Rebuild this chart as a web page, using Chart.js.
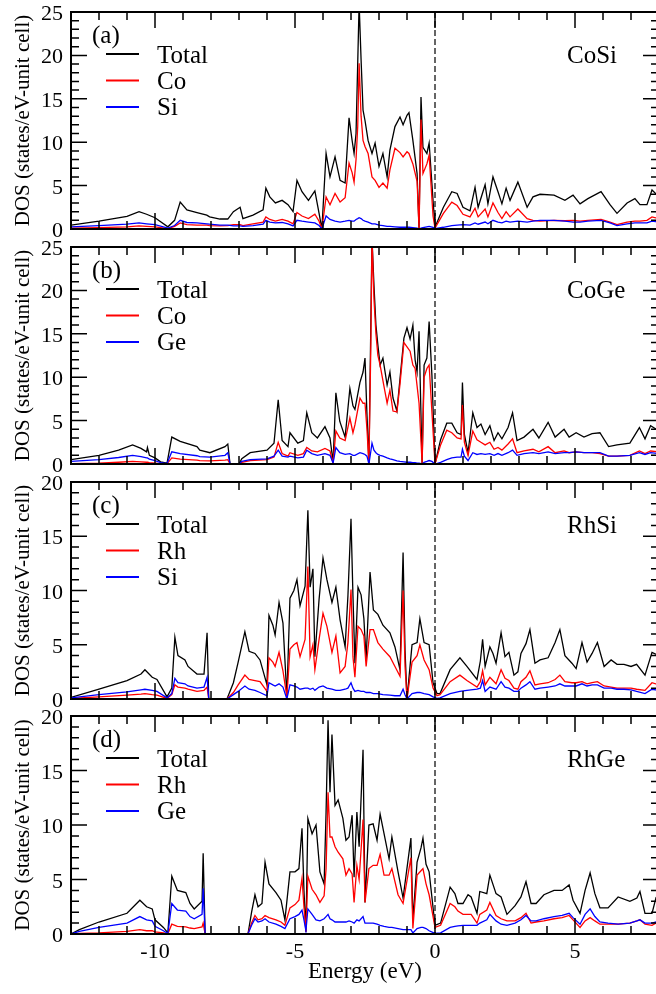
<!DOCTYPE html>
<html lang="en">
<head>
    <meta charset="UTF-8">
    <title>DOS of CoSi, CoGe, RhSi, RhGe</title>
    <script src="https://cdn.jsdelivr.net/npm/chart.js@4.4.0/dist/chart.umd.min.js"></script>
    <style>
        html, body { margin: 0; padding: 0; background: #fff; overflow: hidden; }
        #wrap { position: relative; width: 660px; height: 994px; }
        #wrap canvas { position: absolute; left: 0; top: 0; }
    </style>
</head>
<body>
    <div id="wrap">
        <canvas id="cosi" width="660" height="994"></canvas>
        <canvas id="coge" width="660" height="994"></canvas>
        <canvas id="rhsi" width="660" height="994"></canvas>
        <canvas id="rhge" width="660" height="994"></canvas>
    </div>

    <script>
        // (a) CoSi
        const cosiEnergy = [
            -13, -12, -11, -10.57, -10.3, -10, -9.54, -9.3, -9.1, -8.86,
            -8.5, -8.15, -8.05, -7.68, -7.4, -7.2, -6.96, -6.86, -6.5, -6.14,
            -6.04, -5.9, -5.7, -5.46, -5.25, -5.07, -4.93, -4.75, -4.52, -4.29,
            -4.14, -4.04, -3.89, -3.75, -3.57, -3.39, -3.21, -3.07, -2.96, -2.89,
            -2.82, -2.76, -2.71, -2.64, -2.57, -2.5, -2.39, -2.25, -2.14, -2,
            -1.86, -1.71, -1.61, -1.43, -1.25, -1.14, -1, -0.93, -0.79, -0.64,
            -0.57, -0.5, -0.43, -0.29, -0.21, -0.07, 0, 0.3, 0.6, 0.79,
            1, 1.25, 1.43, 1.54, 1.79, 1.89, 2.07, 2.25, 2.39, 2.54,
            2.68, 2.96, 3.29, 3.5, 3.75, 4.25, 4.64, 4.93, 5.18, 5.46,
            5.93, 6.25, 6.5, 6.86, 7.14, 7.32, 7.57, 7.75, 8
        ];
        const cosiTotal = [
            0.45, 0.9, 1.45, 2.0, 1.7, 1.3, 0.25, 1.0, 3.1, 2.2,
            1.9, 1.6, 1.4, 1.15, 1.15, 2.0, 2.5, 1.2, 1.6, 2.2,
            4.7, 3.7, 3.0, 3.3, 2.8, 2.0, 5.6, 4.3, 3.3, 4.4,
            1.8, 0, 8.7, 6.0, 8.3, 5.6, 5.3, 12.8, 10.2, 8.7,
            11.0, 19.1, 26, 19.5, 13.7, 12.5, 10.2, 8.7, 9.9, 7.2,
            8.7, 6.0, 9.1, 11.8, 12.9, 12.0, 13.1, 13.4, 10.2, 6.4,
            0, 15.2, 9.4, 8.7, 9.9, 3.3, 0.2, 2.5, 4.3, 4.1,
            2.5, 2.1, 4.8, 2.5, 5.1, 2.9, 6.0, 4.3, 2.9, 4.7,
            3.3, 5.4, 2.5, 3.7, 4.0, 3.9, 3.3, 3.9, 2.9, 3.5,
            4.3, 2.8, 1.8, 3.0, 3.5, 2.8, 2.8, 4.5, 3.7
        ];
        const cosiCo = [
            0.1, 0.15, 0.25, 0.35, 0.3, 0.25, 0.05, 0.3, 0.7, 0.5,
            0.45, 0.45, 0.4, 0.35, 0.4, 0.5, 0.5, 0.4, 0.6, 0.8,
            1.4, 1.1, 0.9, 1.1, 0.9, 0.6, 1.9, 1.5, 1.2, 1.7,
            0.9, 0, 3.7, 2.8, 4.1, 3.1, 3.6, 7.6, 6.5, 5.4,
            8.0, 11.8, 19.1, 13, 10.2, 9.5, 8.7, 6.0, 5.6, 4.8,
            5.3, 4.7, 6.8, 9.3, 8.8, 8.3, 8.9, 8.7, 7.5, 5.5,
            0, 12.6, 6.4, 7.5, 8.5, 1.5, 0.1, 1.8, 3.1, 2.7,
            1.7, 1.4, 2.4, 1.4, 2.3, 1.4, 3.0, 1.9, 1.2, 2.0,
            1.4, 2.3, 1.2, 1.0, 0.9, 1.0, 0.95, 1.0, 0.9, 1.0,
            1.1, 0.8, 0.5, 0.8, 0.9, 0.9, 1.0, 1.4, 1.2
        ];
        const cosiSi = [
            0.25, 0.4, 0.55, 0.7, 0.6, 0.5, 0.1, 0.4, 1.0, 0.75,
            0.7, 0.6, 0.55, 0.45, 0.45, 0.35, 0.35, 0.3, 0.4, 0.55,
            1.0, 0.8, 0.7, 0.75, 0.6, 0.35, 1.0, 0.9, 0.8, 0.7,
            0.4, 0, 1.5, 1.1, 0.9, 0.8, 0.9, 1.0, 0.9, 0.9,
            1.1, 1.2, 1.3, 1.2, 1.0, 0.9, 0.8, 0.6, 0.6, 0.45,
            0.4, 0.3, 0.3, 0.25, 0.2, 0.2, 0.2, 0.2, 0.15, 0.1,
            0, 0.1, 0.15, 0.25, 0.3, 0.2, 0.05, 0.2, 0.4, 0.45,
            0.5, 0.45, 0.7, 0.55, 0.8, 0.6, 1.0, 0.8, 0.7, 0.9,
            0.8, 0.9, 0.8, 0.9, 1.0, 1.0, 0.9, 0.8, 0.8, 0.9,
            1.0, 0.7, 0.4, 0.6, 0.7, 0.7, 0.7, 0.9, 0.8
        ];

        // (b) CoGe
        const cogeEnergy = [
            -13, -12, -11.3, -10.8, -10.5, -10.3, -10.27, -10.2, -10, -9.8,
            -9.57, -9.4, -9.1, -8.5, -8.4, -8.04, -7.5, -7.4, -7.32, -7,
            -6.9, -6.6, -6, -5.75, -5.6, -5.46, -5.25, -5.18, -4.9, -4.7,
            -4.58, -4.4, -4.2, -3.93, -3.75, -3.64, -3.54, -3.4, -3.21, -3.04,
            -2.93, -2.86, -2.68, -2.57, -2.5, -2.43, -2.36, -2.29, -2.25, -2.18,
            -2.11, -2.04, -1.96, -1.86, -1.71, -1.61, -1.5, -1.36, -1.25, -1.11,
            -1, -0.89, -0.79, -0.71, -0.64, -0.57, -0.46, -0.39, -0.29, -0.21,
            -0.11, 0, 0.2, 0.42, 0.6, 0.79, 0.93, 0.98, 1.05, 1.18,
            1.35, 1.5, 1.64, 1.79, 1.96, 2.11, 2.25, 2.39, 2.61, 2.77,
            2.93, 3.18, 3.5, 3.71, 4.04, 4.29, 4.61, 4.79, 5.04, 5.32,
            5.61, 5.89, 6.2, 6.5, 6.96, 7.3, 7.5, 7.7, 8
        ];
        const cogeTotal = [
            0.5, 1.0, 1.6, 2.2, 1.8, 1.4, 1.9, 1.0, 0.7, 0.25,
            0.1, 3.1, 2.6, 2.0, 1.6, 1.3, 2.0, 2.3, 0, 0,
            0.6, 1.3, 1.6, 2.4, 7.4, 2.7, 2.0, 3.6, 2.4, 2.7,
            5.9, 3.6, 3.0, 4.3, 3.0, 0.2, 8.2, 4.9, 3.1, 8.7,
            6.7, 6.3, 9.4, 10.6, 12.2, 5.7, 0, 16.6, 26, 20.6,
            16, 13.7, 11.4, 12.2, 9.1, 10.6, 7.6, 6.1, 9.8, 14.5,
            15.7, 14.4, 16.0, 12.0, 10.6, 15.3, 0, 11.4, 12.2, 16.4,
            10.2, 0, 2.8, 4.7, 4.7, 3.6, 3.4, 9.4, 3.4, 1.3,
            5.9, 4.2, 4.6, 3.4, 4.4, 2.7, 3.6, 2.9, 4.2, 5.9,
            2.7, 3.1, 4.0, 3.0, 4.8, 3.1, 4.0, 3.1, 3.6, 3.1,
            3.5, 3.6, 2.0, 2.2, 2.4, 4.2, 2.9, 4.4, 3.8
        ];
        const cogeCo = [
            0.05, 0.1, 0.2, 0.3, 0.25, 0.2, 0.2, 0.15, 0.1, 0.05,
            0.02, 0.7, 0.55, 0.45, 0.4, 0.35, 0.45, 0.5, 0, 0,
            0.2, 0.4, 0.5, 0.8, 2.5, 1.2, 0.9, 1.3, 1.0, 1.2,
            1.9, 1.5, 1.4, 1.8, 1.5, 0.1, 3.8, 3.0, 2.7, 5.3,
            3.6, 4.5, 7.6, 7.0, 7.0, 4.0, 0, 14, 26, 19,
            15, 12.5, 11.4, 9.6, 7.0, 8.5, 6.1, 6.0, 9.2, 14.0,
            13.5, 13.0, 11.4, 11, 9.0, 7.0, 0, 10, 11, 11.4,
            6.0, 0, 2.2, 3.9, 3.6, 3.0, 2.9, 6.8, 2.5, 1.0,
            3.8, 2.8, 2.5, 2.2, 2.5, 1.7, 1.9, 1.6, 2.3, 2.9,
            1.3, 1.5, 1.7, 1.4, 2.0, 1.3, 1.5, 1.3, 1.4, 1.3,
            1.3, 1.2, 0.9, 0.9, 1.0, 1.5, 1.2, 1.5, 1.4
        ];
        const cogeGe = [
            0.3, 0.5, 0.75, 1.0, 0.85, 0.7, 0.7, 0.55, 0.4, 0.15,
            0.05, 1.4, 1.2, 0.95, 0.85, 0.8, 1.0, 1.3, 0, 0,
            0.3, 0.5, 0.6, 0.9, 1.6, 0.9, 0.8, 0.9, 0.7, 0.8,
            1.6, 1.2, 1.0, 1.2, 1.0, 0.1, 1.9, 1.3, 1.1, 1.2,
            1.0, 1.0, 1.3, 1.2, 1.1, 0.9, 0, 1.5, 2.4, 1.6,
            1.3, 1.1, 1.0, 0.9, 0.7, 0.6, 0.5, 0.35, 0.3, 0.25,
            0.2, 0.2, 0.15, 0.15, 0.1, 0.1, 0, 0.2, 0.3, 0.4,
            0.3, 0, 0.2, 0.5, 0.7, 0.8, 0.8, 1.7, 0.9, 0.4,
            1.3, 1.1, 1.2, 1.1, 1.2, 1.0, 1.2, 1.0, 1.3, 1.6,
            1.0, 1.2, 1.3, 1.2, 1.4, 1.2, 1.3, 1.3, 1.4, 1.3,
            1.3, 1.3, 0.9, 0.9, 1.0, 1.3, 1.1, 1.3, 1.2
        ];

        // (c) RhSi
        const rhsiEnergy = [
            -13, -12, -11, -10.5, -10.36, -10.1, -9.93, -9.57, -9.4, -9.29,
            -9.18, -8.93, -8.82, -8.5, -8.25, -8.14, -8.08, -7.43, -7.2, -7.03,
            -6.79, -6.64, -6.43, -6.25, -6, -5.93, -5.79, -5.71, -5.57, -5.43,
            -5.29, -5.18, -5.04, -4.93, -4.82, -4.64, -4.54, -4.46, -4.36, -4.29,
            -4.14, -4, -3.86, -3.68, -3.54, -3.39, -3.21, -3.11, -3, -2.93,
            -2.86, -2.75, -2.64, -2.54, -2.46, -2.32, -2.2, -2.04, -1.86, -1.61,
            -1.43, -1.25, -1.14, -1.07, -1, -0.82, -0.64, -0.54, -0.39, -0.21,
            -0.07, 0.07, 0.18, 0.54, 0.89, 1.14, 1.5, 1.62, 1.7, 1.79,
            1.96, 2.07, 2.18, 2.36, 2.5, 2.64, 2.82, 2.96, 3.07, 3.25,
            3.39, 3.57, 3.75, 4.04, 4.29, 4.46, 4.64, 4.89, 5.04, 5.25,
            5.43, 5.61, 5.8, 6.04, 6.29, 6.5, 6.75, 7, 7.2, 7.5,
            7.75, 8
        ];
        const rhsiTotal = [
            0.15, 0.9, 1.7, 2.3, 2.7, 2.0, 1.8, 0.2, 1.0, 5.7,
            4.0, 3.6, 3.0, 2.3, 2.3, 6.1, 0, 0, 1.5, 3.4,
            6.2, 4.4, 4.2, 3.6, 1.3, 7.7, 6.8, 5.9, 8.9, 7.0,
            0.2, 9.3, 10.0, 11.0, 8.6, 10.4, 17.4, 10.3, 12.0, 3.9,
            9.2, 13.0, 11.0, 8.9, 10.3, 7.3, 4.8, 9.5, 16.6, 9.5,
            3.3, 10.3, 9.6, 7.4, 3.7, 11.7, 8.2, 7.8, 6.8, 6.1,
            4.8, 2.7, 13.5, 4.5, 0, 5.0, 5.2, 7.4, 5.2, 5.0,
            1.5, 0.5, 0.5, 2.7, 3.8, 3.0, 1.8, 3.5, 5.5, 3.0,
            4.8, 4.2, 3.3, 6.1, 3.9, 4.3, 2.2, 2.5, 4.2, 5.1,
            6.4, 3.3, 3.6, 3.8, 5.2, 6.4, 4.0, 3.3, 2.8, 5.2,
            3.4, 4.2, 5.2, 3.0, 3.6, 3.2, 3.2, 3.0, 3.2, 2.2,
            4.3, 4.0
        ];
        const rhsiRh = [
            0.05, 0.2, 0.35, 0.45, 0.5, 0.4, 0.35, 0.05, 0.4, 1.3,
            1.1, 1.0, 0.9, 0.7, 0.8, 1.1, 0, 0, 0.6, 1.3,
            2.2, 1.8, 1.7, 1.6, 0.7, 3.8, 3.4, 3.0, 4.3, 2.6,
            0.2, 4.6, 5.0, 5.2, 3.9, 5.5, 12.2, 3.9, 5.0, 2.7,
            5.5, 7.9, 6.7, 4.3, 5.8, 2.4, 3.0, 5.2, 10.1, 3.9,
            2.0, 6.7, 6.4, 5.8, 3.0, 6.4, 6.4, 5.2, 4.6, 3.9,
            3.0, 2.1, 10.0, 3.0, 0, 3.4, 4.0, 5.0, 3.6, 2.7,
            1.0, 0.3, 0.4, 1.6, 2.2, 1.7, 1.1, 1.6, 2.6, 1.3,
            2.0, 1.7, 1.4, 2.7, 1.9, 1.7, 1.0, 0.9, 1.6, 2.0,
            2.6, 1.3, 1.4, 1.5, 1.8, 2.2, 1.6, 1.5, 1.5, 1.6,
            1.4, 1.5, 1.6, 1.2, 1.1, 1.0, 1.0, 1.0, 0.9, 0.8,
            1.5, 1.3
        ];
        const rhsiSi = [
            0.1, 0.4, 0.65, 0.85, 0.9, 0.8, 0.7, 0.1, 0.5, 1.9,
            1.5, 1.4, 1.2, 1.0, 1.1, 2.0, 0, 0, 0.4, 0.7,
            1.2, 0.9, 0.8, 0.6, 0.3, 1.5, 1.3, 1.2, 1.4, 1.1,
            0, 1.3, 1.2, 1.1, 0.9, 1.0, 1.0, 0.9, 1.0, 0.8,
            1.1, 1.2, 1.0, 0.9, 0.8, 0.8, 0.9, 1.0, 1.5, 1.0,
            0.7, 0.8, 0.7, 0.7, 0.6, 0.6, 0.5, 0.5, 0.4, 0.35,
            0.3, 0.3, 0.9, 0.4, 0, 0.5, 0.6, 0.6, 0.5, 0.4,
            0.2, 0.05, 0.1, 0.5, 0.7, 0.8, 0.9, 1.0, 1.7, 0.7,
            1.1, 1.0, 0.9, 1.6, 1.1, 1.0, 0.7, 0.7, 1.0, 1.3,
            1.6, 0.9, 1.0, 1.1, 1.2, 1.4, 1.2, 1.2, 1.2, 1.4,
            1.2, 1.3, 1.3, 1.0, 1.0, 0.9, 0.9, 0.85, 0.7, 0.5,
            0.9, 0.8
        ];

        // (d) RhGe
        const rhgeEnergy = [
            -13, -12.7, -12, -11, -10.54, -10.3, -10.1, -10, -9.7, -9.54,
            -9.4, -9.2, -8.9, -8.75, -8.6, -8.32, -8.28, -8.21, -6.68, -6.55,
            -6.43, -6.32, -6.18, -6.07, -5.93, -5.68, -5.5, -5.36, -5.18, -5,
            -4.86, -4.75, -4.68, -4.61, -4.54, -4.39, -4.25, -4.11, -3.96, -3.89,
            -3.82, -3.75, -3.68, -3.57, -3.46, -3.29, -3.18, -3.07, -2.96, -2.89,
            -2.79, -2.71, -2.57, -2.5, -2.36, -2.21, -2.07, -1.96, -1.82, -1.64,
            -1.54, -1.32, -1.14, -0.86, -0.79, -0.64, -0.5, -0.43, -0.32, -0.21,
            0, 0.2, 0.54, 0.71, 0.82, 1, 1.18, 1.29, 1.5, 1.6,
            1.85, 1.96, 2.18, 2.36, 2.57, 2.86, 3.07, 3.25, 3.43, 3.61,
            3.89, 4.25, 4.54, 4.79, 4.93, 5.18, 5.36, 5.54, 5.71, 5.89,
            6.18, 6.54, 6.96, 7.21, 7.32, 7.5, 7.75, 7.89, 8
        ];
        const rhgeTotal = [
            0, 0.4, 1.1, 1.9, 3.1, 2.5, 2.3, 1.3, 0.6, 0.1,
            5.3, 4.0, 3.8, 2.8, 2.3, 3.0, 7.4, 0, 0, 2.0,
            3.6, 2.5, 2.8, 6.6, 4.6, 3.8, 3.1, 1.3, 5.7, 5.7,
            6.0, 9.7, 4.0, 0.2, 10.6, 9.2, 10.0, 5.7, 4.6, 11.2,
            19.6, 13.0, 18.3, 11.8, 12.3, 10.6, 8.6, 8.9, 10.9, 5.2,
            11.2, 8.0, 16.9, 2.9, 10.0, 10.1, 8.6, 11.0, 9.2, 6.9,
            8.9, 5.7, 3.3, 8.8, 1.3, 6.6, 7.9, 8.8, 6.4, 5.7,
            0.8, 1.0, 4.3, 3.7, 2.8, 2.8, 3.6, 3.4, 1.9, 3.9,
            3.7, 5.4, 3.7, 3.4, 1.8, 2.6, 3.4, 4.8, 2.8, 2.8,
            3.6, 4.0, 4.0, 4.5, 3.1, 1.9, 4.0, 5.6, 3.7, 2.4,
            2.4, 3.4, 3.0, 3.3, 3.9, 1.9, 1.9, 3.3, 3.0
        ];
        const rhgeRh = [
            0, 0.05, 0.1, 0.25, 0.4, 0.3, 0.3, 0.2, 0.1, 0.02,
            0.9, 0.7, 0.65, 0.55, 0.5, 0.65, 1.0, 0, 0, 1.0,
            1.7, 1.3, 1.4, 1.7, 1.5, 1.3, 1.1, 0.8, 2.4, 2.7,
            3.1, 5.1, 2.5, 0.2, 5.3, 4.1, 3.6, 2.9, 3.5, 6.0,
            13.0, 8.9, 8.9, 8.0, 7.5, 6.9, 5.4, 6.0, 5.5, 2.9,
            6.3, 5.0, 10.5, 2.9, 6.0, 6.3, 6.3, 7.3, 5.4, 5.4,
            6.0, 3.6, 2.8, 7.0, 0.5, 5.4, 5.8, 6.0, 4.6, 3.6,
            0.6, 0.8, 2.8, 2.5, 2.1, 1.8, 1.8, 1.8, 1.0, 1.8,
            2.2, 2.9, 1.7, 1.4, 1.2, 1.2, 1.5, 1.9, 1.0, 1.1,
            1.2, 1.4, 1.5, 1.7, 1.3, 0.6, 1.2, 1.5, 1.2, 0.9,
            0.9, 0.9, 1.0, 1.2, 1.3, 0.9, 0.8, 1.0, 0.9
        ];
        const rhgeGe = [
            0, 0.25, 0.6, 1.0, 1.6, 1.3, 1.2, 0.7, 0.3, 0.05,
            2.8, 2.2, 2.1, 1.6, 1.4, 1.8, 4.2, 0, 0, 0.8,
            1.4, 1.1, 1.2, 1.4, 1.1, 0.9, 0.7, 0.5, 1.4, 1.6,
            1.8, 2.2, 1.3, 0.3, 2.3, 1.8, 1.3, 1.2, 1.4, 1.6,
            1.8, 1.4, 1.3, 1.1, 1.1, 1.1, 1.1, 1.2, 1.1, 1.0,
            1.3, 1.2, 1.6, 1.0, 1.0, 1.0, 0.9, 0.8, 0.7, 0.6,
            0.6, 0.5, 0.4, 0.4, 0.1, 0.5, 0.6, 0.6, 0.5, 0.3,
            0.05, 0.1, 0.6, 0.7, 0.75, 0.8, 0.8, 0.8, 0.8, 1.0,
            1.3, 1.8, 1.2, 0.9, 0.8, 1.0, 1.3, 1.7, 1.2, 1.2,
            1.4, 1.6, 1.7, 1.9, 1.5, 0.9, 1.8, 2.3, 1.6, 1.1,
            1.0, 0.9, 1.0, 1.2, 1.3, 1.0, 1.0, 1.1, 1.0
        ];

        const energyTicks = [-10, -5, 0, 5];
        const seriesColors = ['#000000', '#ff0000', '#0000ff'];
        const serif = '"Liberation Serif", "Times New Roman", serif';

        const panels = [
            { canvas: 'cosi', tag: '(a)', name: 'CoSi', labels: ['Total', 'Co', 'Si'], yMax: 25, top: 12, bottom: 229,
              energy: cosiEnergy, series: [cosiTotal, cosiCo, cosiSi] },
            { canvas: 'coge', tag: '(b)', name: 'CoGe', labels: ['Total', 'Co', 'Ge'], yMax: 25, top: 247, bottom: 464,
              energy: cogeEnergy, series: [cogeTotal, cogeCo, cogeGe] },
            { canvas: 'rhsi', tag: '(c)', name: 'RhSi', labels: ['Total', 'Rh', 'Si'], yMax: 20, top: 482, bottom: 699,
              energy: rhsiEnergy, series: [rhsiTotal, rhsiRh, rhsiSi] },
            { canvas: 'rhge', tag: '(d)', name: 'RhGe', labels: ['Total', 'Rh', 'Ge'], yMax: 20, top: 716, bottom: 934,
              energy: rhgeEnergy, series: [rhgeTotal, rhgeRh, rhgeGe], last: true }
        ];

        // frame, inward ticks, labels and the legend block of each panel
        const panelDecor = {
            id: 'panelDecor',
            beforeDatasetsDraw(chart) {
                const { ctx, chartArea: a } = chart;
                const x0 = chart.scales.x.getPixelForValue(0);
                ctx.save();
                ctx.strokeStyle = '#333';
                ctx.lineWidth = 1.5;
                ctx.setLineDash([6, 3]);
                ctx.beginPath();
                ctx.moveTo(x0, a.top);
                ctx.lineTo(x0, a.bottom);
                ctx.stroke();
                ctx.restore();
            },
            afterDraw(chart, args, opts) {
                const { ctx, chartArea: a } = chart;
                const xs = chart.scales.x, ys = chart.scales.y;
                ctx.save();
                ctx.strokeStyle = '#000';
                ctx.fillStyle = '#000';

                // ticks on all four sides, every 1 unit, longer every 5
                ctx.lineWidth = 1.5;
                ctx.beginPath();
                for (let e = Math.ceil(xs.min); e <= xs.max; e++) {
                    const px = xs.getPixelForValue(e);
                    const len = e % 5 === 0 ? 16 : 8;
                    ctx.moveTo(px, a.bottom); ctx.lineTo(px, a.bottom - len);
                    ctx.moveTo(px, a.top); ctx.lineTo(px, a.top + len);
                }
                for (let v = 0; v <= ys.max; v++) {
                    const py = ys.getPixelForValue(v);
                    const len = v % 5 === 0 ? 16 : 8;
                    ctx.moveTo(a.left, py); ctx.lineTo(a.left + len, py);
                    ctx.moveTo(a.right, py); ctx.lineTo(a.right - len, py);
                }
                ctx.stroke();

                ctx.lineWidth = 2;
                ctx.strokeRect(a.left, a.top, a.right - a.left, a.bottom - a.top);

                // y tick labels
                ctx.font = '22px ' + serif;
                ctx.textAlign = 'right';
                ctx.textBaseline = 'alphabetic';
                for (let v = 0; v <= ys.max; v += 5) {
                    ctx.fillText(String(v), a.left - 8, ys.getPixelForValue(v) + 8);
                }

                // y title
                ctx.save();
                ctx.translate(29, (a.top + a.bottom) / 2);
                ctx.rotate(-Math.PI / 2);
                ctx.textAlign = 'center';
                ctx.font = '21px ' + serif;
                ctx.fillText('DOS (states/eV-unit cell)', 0, 0);
                ctx.restore();

                // panel tag and compound
                ctx.textAlign = 'left';
                ctx.font = '25px ' + serif;
                ctx.fillText(opts.tag, a.left + 21, a.top + 31);
                ctx.fillText(opts.name, a.left + 496, a.top + 51);

                // legend
                opts.labels.forEach((lab, i) => {
                    const ly = a.top + 42 + i * 26.5;
                    ctx.strokeStyle = seriesColors[i];
                    ctx.lineWidth = 2;
                    ctx.beginPath();
                    ctx.moveTo(a.left + 35, ly);
                    ctx.lineTo(a.left + 68, ly);
                    ctx.stroke();
                    ctx.fillText(lab, a.left + 86, a.top + 51 + i * 26);
                });

                if (opts.last) {
                    ctx.font = '22px ' + serif;
                    ctx.textAlign = 'center';
                    energyTicks.forEach(e => {
                        ctx.fillText(String(e), xs.getPixelForValue(e), a.bottom + 24);
                    });
                    ctx.font = '23px ' + serif;
                    ctx.fillText('Energy (eV)', (a.left + a.right) / 2, a.bottom + 44);
                }
                ctx.restore();
            }
        };

        const toPoints = (xs, ys) => xs.map((x, i) => ({ x: x, y: ys[i] }));

        panels.forEach(p => {
            new Chart(document.getElementById(p.canvas), {
                type: 'line',
                data: {
                    datasets: p.series.map((vals, i) => ({
                        label: p.labels[i],
                        data: toPoints(p.energy, vals),
                        borderColor: seriesColors[i],
                        borderWidth: 1.3,
                        pointRadius: 0,
                        tension: 0,
                        fill: false,
                        order: 3 - i
                    }))
                },
                options: {
                    responsive: false,
                    animation: false,
                    events: [],
                    layout: { padding: { left: 71, right: 1, top: p.top, bottom: 994 - p.bottom } },
                    scales: {
                        x: { type: 'linear', min: -13, max: 8, display: false },
                        y: { type: 'linear', min: 0, max: p.yMax, display: false }
                    },
                    plugins: {
                        legend: { display: false },
                        tooltip: { enabled: false },
                        panelDecor: { tag: p.tag, name: p.name, labels: p.labels, last: !!p.last }
                    }
                },
                plugins: [panelDecor]
            });
        });
    </script>
</body>
</html>
